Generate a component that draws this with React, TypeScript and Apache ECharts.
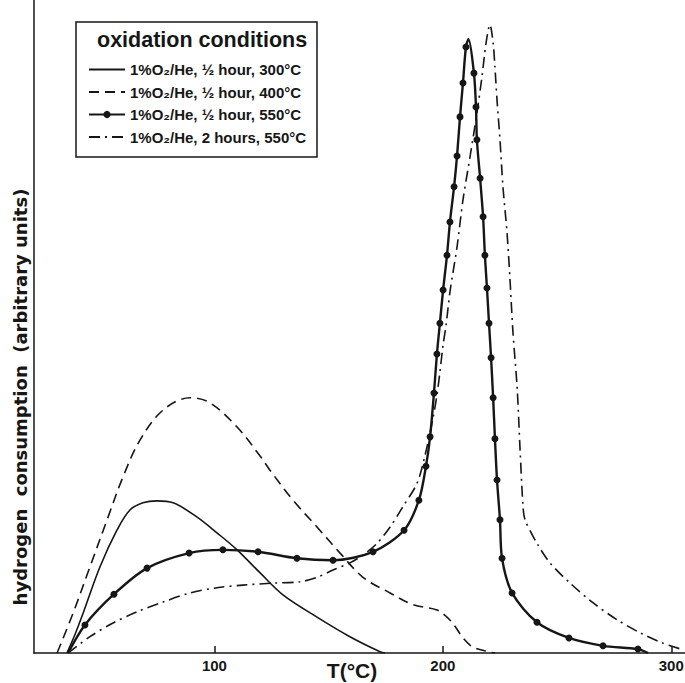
import React, { useEffect, useRef } from "react";
import * as echarts from "echarts";

const FONT = '"Liberation Sans", Arial, Helvetica, sans-serif';
const WIDE_FONT = '"DejaVu Sans", "Liberation Sans", Arial, sans-serif';

const legendTitle = "oxidation conditions";
const xAxisTitle = "T(°C)";
const yAxisTitle = "hydrogen  consumption  (arbitrary units)";

const seriesNames = [
  "1%O₂/He, ½ hour, 300°C",
  "1%O₂/He, ½ hour, 400°C",
  "1%O₂/He, ½ hour, 550°C",
  "1%O₂/He, 2 hours, 550°C",
];

const xTicks = [100, 200, 300];

// [T (°C), hydrogen consumption (arbitrary units, 0-100)]
const ox300Half: [number, number][] = [
  [35.4, 0], [38.9, 2.8], [42.5, 6.1], [49.9, 13.2], [57.3, 18.8], [63.0, 21.9],
  [68.7, 23.0], [74.8, 23.3], [81.9, 23.0], [92.4, 20.8], [101.1, 18.4],
  [109.9, 15.8], [119.9, 12.3], [130.0, 8.9], [144.9, 5.5], [159.3, 2.5],
  [172.5, 0.2], [174.7, 0],
];

const ox400Half: [number, number][] = [
  [31.1, 0], [38.1, 6.1], [45.5, 13.2], [53.0, 20.4], [60.0, 27.0], [67.4, 32.6],
  [77.5, 37.2], [89.3, 39.1], [98.1, 38.3], [109.9, 34.6], [119.9, 30.2],
  [124.3, 28.0], [134.4, 23.4], [144.9, 19.3], [155.0, 15.3], [165.0, 11.6],
  [176.9, 9.2], [186.9, 7.4], [197.4, 6.6], [201.8, 5.5], [205.3, 4.1],
  [208.8, 2.3], [213.2, 0.9], [220.6, 0.15], [222.8, 0],
];

// marked points (dots) of the 1/2 hour, 550°C curve
const ox550HalfMarkers: [number, number][] = [
  [43.3, 4.3], [56.0, 9.0], [70.5, 13.0], [88.9, 15.3], [103.7, 15.8],
  [119.1, 15.5], [136.1, 14.5], [151.9, 14.2], [169.4, 15.5], [183.0, 18.8],
  [189.5, 23.4], [192.6, 28.6], [194.4, 33.1], [196.1, 39.8], [197.4, 45.8],
  [198.7, 50.5], [200.1, 55.6], [201.8, 60.9], [203.1, 66.0], [204.9, 71.4],
  [206.2, 76.1], [207.5, 82.1], [208.8, 87.3], [210.1, 92.8],
  [213.6, 88.8], [214.5, 83.6], [214.9, 78.6], [216.3, 72.7], [217.6, 66.8],
  [218.4, 60.9], [219.3, 55.9], [220.2, 50.5], [221.1, 45.2], [222.0, 39.1],
  [222.8, 32.8], [223.7, 26.5], [225.0, 20.4], [225.9, 14.5], [230.3, 9.2],
  [241.2, 4.7], [255.2, 2.3], [270.1, 1.1], [285.4, 0.6],
];
// unmarked points of the same curve (start, peak, end)
const ox550HalfExtra: [number, number][] = [
  [35.9, 0], [211.2, 94.0], [289.8, 0],
];

const ox550Two: [number, number][] = [
  [35.9, 0], [45.5, 2.5], [55.6, 4.6], [66.1, 6.3], [77.5, 7.8], [89.3, 9.2],
  [101.1, 10.0], [112.5, 10.4], [125.6, 10.7], [137.5, 10.9], [144.9, 11.6],
  [151.9, 12.7], [159.3, 13.8], [165.0, 15.0], [171.2, 16.8], [176.9, 19.3],
  [182.5, 22.4], [188.7, 26.0], [192.2, 30.3], [195.7, 36.0], [197.4, 39.5],
  [198.7, 43.0], [200.1, 47.2], [201.4, 50.2], [203.1, 55.3], [206.2, 62.2],
  [208.8, 69.4], [211.9, 76.0], [214.9, 82.7], [217.1, 88.2], [218.9, 93.4],
  [220.6, 96.2], [222.0, 93.4], [222.8, 89.7], [223.7, 84.7], [225.0, 78.6],
  [226.3, 71.4], [228.1, 64.3], [229.4, 57.1], [230.7, 49.0], [232.5, 40.7],
  [233.8, 31.1], [235.1, 22.4], [236.0, 20.4], [241.2, 16.8], [246.9, 13.8],
  [255.7, 10.7], [265.7, 7.7], [276.2, 5.1], [286.3, 3.1], [296.4, 1.5],
  [305.1, 0.5],
];

export default function App() {
  const ref = useRef<HTMLDivElement>(null);

  useEffect(() => {
    if (!ref.current) return;
    const chart = echarts.init(ref.current, undefined, { renderer: "svg" });
    const ink = "#161616";

    const markerData = [
      ...ox550HalfMarkers.map((p) => ({ value: p })),
      ...ox550HalfExtra.map((p) => ({ value: p, symbol: "none" })),
    ].sort((a, b) => a.value[0] - b.value[0]);

    const hidden = { opacity: 0, color: "rgba(0,0,0,0)", borderColor: "rgba(0,0,0,0)", borderWidth: 0 };

    const option: any = {
      animation: false,
      backgroundColor: "#ffffff",
      title: {
        text: legendTitle,
        left: 97,
        top: 29,
        padding: 0,
        textStyle: { fontFamily: FONT, fontSize: 21.5, fontWeight: "bold", color: ink },
      },
      legend: {
        orient: "vertical",
        left: 88,
        top: 62,
        padding: 0,
        itemWidth: 36,
        itemHeight: 9,
        itemGap: 7.5,
        selectedMode: false,
        data: [
          { name: seriesNames[0], itemStyle: hidden },
          { name: seriesNames[1], itemStyle: hidden },
          { name: seriesNames[2] },
          { name: seriesNames[3], itemStyle: hidden },
        ],
        textStyle: { fontFamily: FONT, fontSize: 15, fontWeight: "bold", color: ink },
      },
      grid: { left: 34, right: 0, top: 0, bottom: 30, containLabel: false, outerBoundsMode: "none" },
      xAxis: {
        type: "value",
        min: 21,
        max: 306,
        name: xAxisTitle,
        nameLocation: "middle",
        nameGap: 7,
        nameMoveOverlap: false,
        nameTextStyle: {
          fontFamily: FONT,
          fontSize: 21,
          fontWeight: "bold",
          color: ink,
          padding: [0, 15, 0, 0],
        },
        axisLine: { show: true, onZero: false, lineStyle: { color: ink, width: 1.5 } },
        axisTick: { show: true, inside: true, length: 7, customValues: xTicks, lineStyle: { color: ink, width: 1.5 } },
        axisLabel: {
          customValues: xTicks,
          margin: 5,
          fontFamily: FONT,
          fontSize: 15,
          fontWeight: "bold",
          color: ink,
        },
        splitLine: { show: false },
      },
      yAxis: {
        type: "value",
        min: 0,
        max: 100,
        axisLine: { show: true, onZero: false, lineStyle: { color: ink, width: 1.5 } },
        axisTick: { show: false },
        axisLabel: { show: false },
        splitLine: { show: false },
      },
      graphic: [
        {
          type: "rect",
          shape: { x: 76, y: 22, width: 241, height: 135 },
          style: { fill: "none", stroke: ink, lineWidth: 1.5 },
          z: 1,
        },
        {
          type: "text",
          x: 20,
          y: 397,
          rotation: Math.PI / 2,
          style: {
            text: yAxisTitle,
            x: 0,
            y: 0,
            textAlign: "center",
            textVerticalAlign: "middle",
            font: `bold 18px ${WIDE_FONT}`,
            fill: ink,
          },
        },
      ],
      series: [
        {
          name: seriesNames[0],
          type: "line",
          data: ox300Half,
          smooth: 0.35,
          symbol: "none",
          lineStyle: { color: ink, width: 1.6, type: "solid" },
          itemStyle: { color: ink },
        },
        {
          name: seriesNames[1],
          type: "line",
          data: ox400Half,
          smooth: 0.35,
          symbol: "none",
          lineStyle: { color: ink, width: 1.6, type: [10, 6] },
          itemStyle: { color: ink },
        },
        {
          name: seriesNames[2],
          type: "line",
          data: markerData,
          smooth: 0.3,
          symbol: "circle",
          symbolSize: 7,
          showSymbol: true,
          showAllSymbol: true,
          lineStyle: { color: ink, width: 2.4, type: "solid" },
          itemStyle: { color: ink, borderWidth: 0 },
        },
        {
          name: seriesNames[3],
          type: "line",
          data: ox550Two,
          smooth: 0.3,
          symbol: "none",
          lineStyle: { color: ink, width: 1.6, type: [11, 5, 2, 5] },
          itemStyle: { color: ink },
        },
      ],
    };

    chart.setOption(option);
    return () => chart.dispose();
  }, []);

  return (
    <div
      ref={ref}
      style={{ position: "fixed", left: 0, top: 0, width: 685, height: 683, background: "#fff" }}
    />
  );
}
